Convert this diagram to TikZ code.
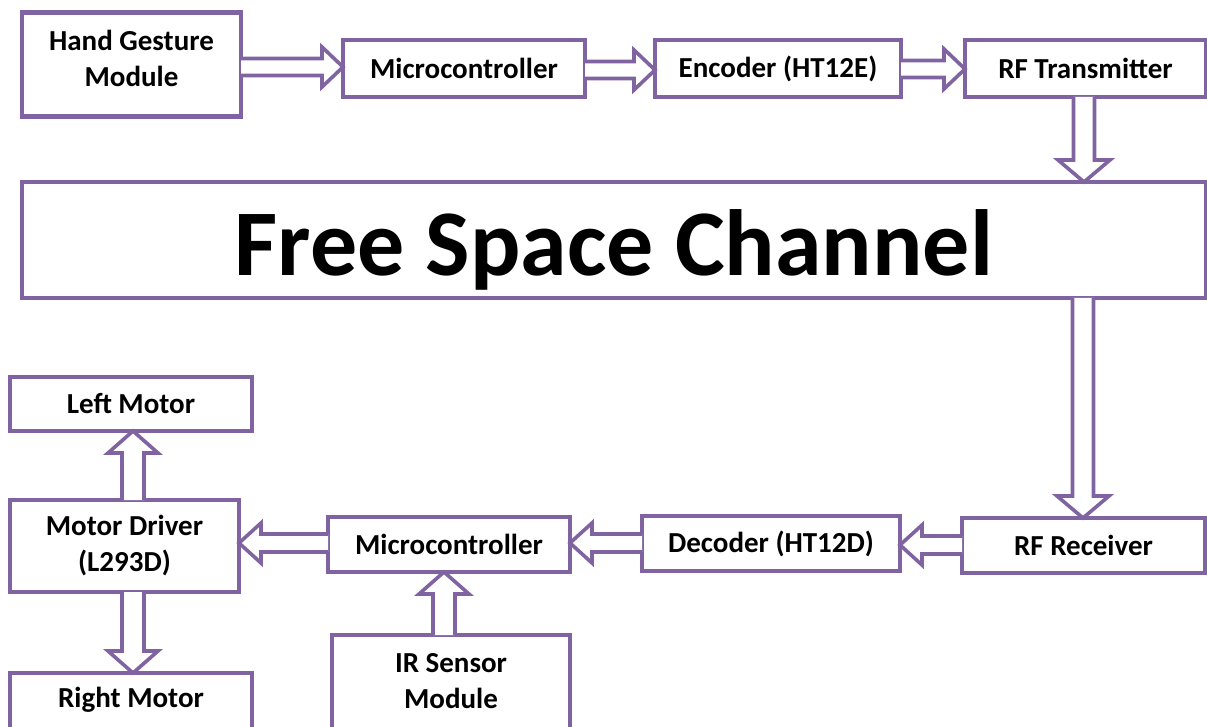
\documentclass[tikz,border=0pt]{standalone}
\usepackage{fontspec}
\setmainfont{Carlito}
\usetikzlibrary{calc}
\definecolor{boxpurple}{HTML}{8064A2}
\newcommand\blockarrow[5]{%
  \coordinate (ba-s) at (#4);
  \coordinate (ba-e) at (#5);
  \coordinate (ba-h) at ($(ba-e)!#3!(ba-s)$);
  \draw[arrowline]
    ($(ba-s)!#1!90:(ba-e)$) -- ($(ba-h)!#1!90:(ba-e)$) --
    ($(ba-h)!#2!90:(ba-e)$) -- (ba-e) --
    ($(ba-h)!#2!-90:(ba-e)$) -- ($(ba-h)!#1!-90:(ba-e)$) --
    ($(ba-s)!#1!-90:(ba-e)$);
}
\tikzset{
  labelfont/.style={font=\fontsize{29}{36}\selectfont\bfseries},
  box/.style={draw=boxpurple, line width=4.2pt, inner sep=0pt, outer sep=0pt,
    align=center, labelfont},
  boxtext/.style={labelfont, align=center, inner sep=0pt},
  arrowline/.style={draw=boxpurple, line width=3.6pt, fill=white, line join=miter},
}
\begin{document}
\begin{tikzpicture}[x=1pt,y=1pt]
\useasboundingbox (0,0) rectangle (1207,-727);
\clip (0,0) rectangle (1207,-727);
% boxes (centres and sizes from line centres)
\node[box, minimum width=219pt, minimum height=104pt] (hgm) at (131.5,-64.5) {};
\node[boxtext] (hgmt) at (131.5,-58) {Hand Gesture\\Module};
\node[box, minimum width=242pt, minimum height=57pt] (mc1) at (464,-68.5) {Microcontroller};
\node[box, minimum width=246pt, minimum height=57pt] (enc) at (778,-68.5) {Encoder (HT12E)};
\node[box, minimum width=241pt, minimum height=57pt] (rft) at (1085.5,-68.5) {RF Transmitter};
\node[box, minimum width=1184pt, minimum height=116pt] (fsc) at (614,-240) {};
\node[font=\fontsize{94}{100}\selectfont\bfseries, inner sep=0pt] (fsct) at (614,-250) {Free Space Channel};
\node[box, minimum width=243pt, minimum height=55pt] (rfr) at (1083.5,-545.5) {RF Receiver};
\node[box, minimum width=258pt, minimum height=55pt] (dec) at (771,-543.5) {Decoder (HT12D)};
\node[box, minimum width=242pt, minimum height=55pt] (mc2) at (449,-544.5) {Microcontroller};
\node[box, minimum width=229pt, minimum height=92pt] (md) at (124.5,-546) {Motor Driver\\(L293D)};
\node[box, minimum width=242pt, minimum height=54pt] (lm) at (131,-404) {Left Motor};
\node[box, minimum width=242pt, minimum height=110pt] (rm) at (131,-728) {};
\node[boxtext] (rmt) at (131,-700) {Right Motor};
\node[box, minimum width=238pt, minimum height=170pt] (ir) at (451,-720) {};
\node[boxtext] (irt) at (451,-681) {IR Sensor\\Module};
% arrows
\blockarrow{8.5pt}{20pt}{21pt}{hgm.east |- 0,-67}{mc1.west |- 0,-67}
\blockarrow{8.5pt}{20pt}{21pt}{mc1.east |- 0,-70}{enc.west |- 0,-70}
\blockarrow{8.5pt}{20pt}{21pt}{enc.east |- 0,-69}{rft.west |- 0,-69}
\blockarrow{10.5pt}{26pt}{22pt}{1084,0 |- rft.south}{1084,0 |- fsc.north}
\blockarrow{10.5pt}{26pt}{22pt}{1083,0 |- fsc.south}{1083,0 |- rfr.north}
\blockarrow{9pt}{20pt}{22pt}{rfr.west |- 0,-545}{dec.east |- 0,-545}
\blockarrow{9pt}{20pt}{22pt}{dec.west |- 0,-543}{mc2.east |- 0,-543}
\blockarrow{9pt}{20pt}{22pt}{mc2.west |- 0,-543}{md.east |- 0,-543}
\blockarrow{11pt}{25pt}{22pt}{133,0 |- md.north}{133,0 |- lm.south}
\blockarrow{11pt}{25pt}{22pt}{133,0 |- md.south}{133,0 |- rm.north}
\blockarrow{11pt}{25pt}{22pt}{444,0 |- ir.north}{444,0 |- mc2.south}
\end{tikzpicture}
\end{document}
